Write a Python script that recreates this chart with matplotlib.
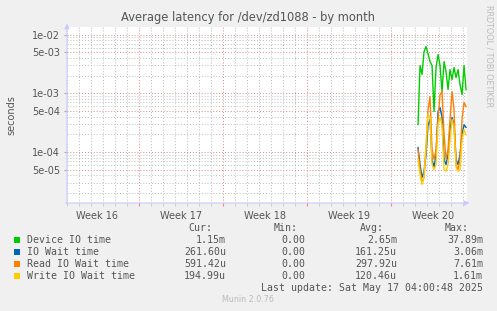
import numpy as np
import matplotlib
matplotlib.use("Agg")
import matplotlib.pyplot as plt
from matplotlib.ticker import FixedLocator, FuncFormatter, LogLocator, MultipleLocator

# Time axis in days counted from the start of week 17 (one sample every 4 hours).
t_start = 23.25
t_step = 1.0 / 6.0

device_io = [2.94e-4, 2.97e-3, 2.09e-3, 5.14e-3, 6.25e-3, 4.75e-3, 3.47e-3, 2.97e-3, 4.89e-4,
             2.74e-3, 4.57e-3, 2.97e-3, 1.07e-3, 3.47e-3, 2.34e-3, 1.16e-3, 2.54e-3, 1.71e-3,
             2.74e-3, 1.85e-3, 2.54e-3, 1.41e-3, 9.5e-4, 2.97e-3, 1.15e-3]
io_wait = [1.19e-4, 6.1e-5, 3.7e-5, 4.7e-5, 9.1e-5, 2.9e-4, 3.6e-4, 7.5e-5, 5.5e-5,
           9.1e-5, 4.9e-4, 5.7e-4, 3.9e-4, 7.5e-5, 6.1e-5, 9.1e-5, 2.4e-4, 3.9e-4,
           2.9e-4, 7.5e-5, 6.1e-5, 9.1e-5, 2.0e-4, 2.9e-4, 2.62e-4]
read_wait = [1.1e-4, 5.0e-5, 3.0e-5, 3.7e-5, 1.1e-4, 5.3e-4, 8.8e-4, 1.1e-4, 7.5e-5,
             1.1e-4, 3.6e-4, 9.5e-4, 1.07e-3, 2.0e-4, 7.5e-5, 1.1e-4, 3.6e-4, 1.07e-3,
             5.3e-4, 6.1e-5, 5.0e-5, 7.5e-5, 3.6e-4, 7.0e-4, 5.91e-4]
write_wait = [7.5e-5, 4.1e-5, 2.8e-5, 3.7e-5, 1.34e-4, 4.35e-4, 3.9e-4, 6.1e-5, 5.0e-5,
              6.1e-5, 2.9e-4, 3.9e-4, 2.9e-4, 5.0e-5, 4.7e-5, 6.1e-5, 1.6e-4, 3.6e-4,
              2.6e-4, 5.5e-5, 4.7e-5, 5.0e-5, 1.6e-4, 2.4e-4, 1.95e-4]

series_names = ["Device IO time", "IO Wait time", "Read IO Wait time", "Write IO Wait time"]
series_colors = ["#00cc00", "#0066b3", "#ff8000", "#ffcc00"]
cur_vals = ["1.15m", "261.60u", "591.42u", "194.99u"]
min_vals = ["0.00", "0.00", "0.00", "0.00"]
avg_vals = ["2.65m", "161.25u", "297.92u", "120.46u"]
max_vals = ["37.89m", "3.06m", "7.61m", "1.61m"]

week_labels = ["Week 16", "Week 17", "Week 18", "Week 19", "Week 20"]
week_label_pos = [-3.5, 3.5, 10.5, 17.5, 24.5]
y_ticks = [5e-5, 1e-4, 5e-4, 1e-3, 5e-3, 1e-2]

W, H = 497, 311
txt = "#555555"
fig = plt.figure(figsize=(W / 100, H / 100), dpi=100, facecolor="#f0f0f0")
ax = fig.add_axes([67 / W, (H - 203) / H, 400 / W, 176 / H])
ax.set_facecolor("white")

t = t_start + t_step * np.arange(len(device_io))
for vals, col in zip([device_io, io_wait, read_wait, write_wait], series_colors):
    ax.plot(t, vals, color=col, lw=1.0)

ax.set_yscale("log")
ax.set_ylim(1.35e-5, 1.35e-2)
ax.set_xlim(-6.0, 27.33)

# grid
ax.yaxis.set_major_locator(FixedLocator(y_ticks))
ax.yaxis.set_minor_locator(LogLocator(base=10, subs=np.arange(1, 10), numticks=20))
ax.yaxis.set_major_formatter(FuncFormatter(lambda v, p: f"{v:.0e}"))
ax.yaxis.set_minor_formatter(FuncFormatter(lambda v, p: ""))
ax.xaxis.set_major_locator(MultipleLocator(7))
ax.xaxis.set_minor_locator(MultipleLocator(1))
ax.xaxis.set_major_formatter(FuncFormatter(lambda v, p: ""))
ax.grid(which="minor", color="#bdbdbd", lw=0.7, ls=(0, (1, 2)))
ax.grid(which="major", color="#e08888", lw=0.7, ls=(0, (1, 2)))
ax.set_axisbelow(True)

for s in ax.spines.values():
    s.set_visible(False)
ax.tick_params(axis="y", which="major", length=2, color="#aaaaaa", labelsize=7, labelcolor=txt, pad=3)
ax.tick_params(axis="y", which="minor", length=0)
ax.tick_params(axis="x", which="major", length=2, color="#ff8080", direction="out")
ax.tick_params(axis="x", which="minor", length=2, color="#cccccc", direction="out")

for lab, pos in zip(week_labels, week_label_pos):
    ax.text(pos, -0.045, lab, transform=ax.get_xaxis_transform(), ha="center", va="top",
            fontsize=7, color=txt)

# axis arrows
ax.annotate("", xy=(1.013, 0), xytext=(-0.01, 0), xycoords="axes fraction",
            arrowprops=dict(arrowstyle="-|>", color="#c8c8ff", lw=0.8, mutation_scale=7))
ax.annotate("", xy=(0, 1.035), xytext=(0, -0.02), xycoords="axes fraction",
            arrowprops=dict(arrowstyle="-|>", color="#c8c8ff", lw=0.8, mutation_scale=7))

def fx(x):
    return x / W

def fy(y):
    return 1 - y / H

fig.text(fx(248), fy(17), "Average latency for /dev/zd1088 - by month", ha="center", va="center",
         fontsize=8.3, color=txt)
fig.text(fx(11), fy(115), "seconds", rotation=90, ha="center", va="center", fontsize=7, color=txt)
fig.text(fx(489), fy(5), "RRDTOOL / TOBI OETIKER", rotation=270, ha="center", va="top",
         fontsize=5.8, color="#bbbbbb")

# legend table
mono = "DejaVu Sans Mono"
fs = 7.1
for hx, h in zip([212, 298, 384, 469], ["Cur:", "Min:", "Avg:", "Max:"]):
    fig.text(fx(hx), fy(228), h, ha="right", va="center", fontsize=fs, family=mono, color=txt)
for i, name in enumerate(series_names):
    y = 240 + 12 * i
    fig.patches.append(plt.Rectangle((fx(14), fy(y + 3)), 6 / W, 6 / H, transform=fig.transFigure,
                                     facecolor=series_colors[i], edgecolor="none"))
    fig.text(fx(27), fy(y), name, ha="left", va="center", fontsize=fs, family=mono, color=txt)
    for cx, col in zip([226, 305, 397, 483], [cur_vals, min_vals, avg_vals, max_vals]):
        fig.text(fx(cx), fy(y), col[i], ha="right", va="center", fontsize=fs, family=mono, color=txt)
fig.text(fx(483), fy(288), "Last update: Sat May 17 04:00:48 2025", ha="right", va="center",
         fontsize=fs, family=mono, color=txt)
fig.text(fx(248), fy(300), "Munin 2.0.76", ha="center", va="center", fontsize=5.8, color="#bbbbbb")

fig.savefig("out.png", dpi=100, facecolor=fig.get_facecolor())
